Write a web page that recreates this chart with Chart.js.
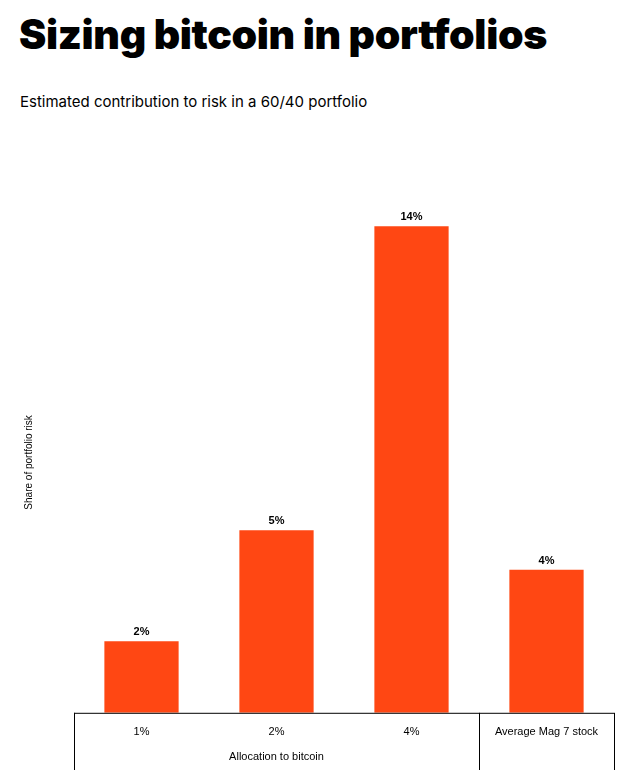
<!DOCTYPE html>
<html>
<head>
<meta charset="utf-8">
<script src="https://cdn.jsdelivr.net/npm/chart.js@4.4.1/dist/chart.umd.min.js"></script>
<style>
  body { margin: 0; background: #fff; }
  #wrap { position: relative; width: 631px; height: 770px; overflow: hidden; }
  #title { position: absolute; left: 19px; top: 9px; margin: 0;
    font-family: Inter, sans-serif; font-weight: 900; font-size: 41px; letter-spacing: -0.35px; color: #000; }
  #subtitle { position: absolute; left: 20px; top: 92px; margin: 0;
    font-family: Inter, sans-serif; font-weight: 400; font-size: 15px; color: #000; }
  #chart { position: absolute; left: 0; top: 0; }
</style>
</head>
<body>
<div id="wrap">
  <h1 id="title">Sizing bitcoin in portfolios</h1>
  <p id="subtitle">Estimated contribution to risk in a 60/40 portfolio</p>
  <canvas id="chart" width="631" height="770"></canvas>
</div>
<script>
  'use strict'
  // data
  var categorias = ['1%', '2%', '4%', 'Average Mag 7 stock'];
  var valores = [2.0, 5.1, 13.6, 4.0]; // share of portfolio risk, %
  var grupoLabel = 'Allocation to bitcoin';
  var grupoCount = 3; // first three categories are bitcoin allocations

  var naranja = '#FF4713';

  // labels above the bars
  const etiquetasBarras = {
    id: 'etiquetasBarras',
    afterDatasetsDraw(chart) {
      const ctx = chart.ctx;
      const meta = chart.getDatasetMeta(0);
      ctx.save();
      ctx.font = 'bold 11px "Liberation Sans", Arial, sans-serif';
      ctx.fillStyle = '#000';
      ctx.textAlign = 'center';
      ctx.textBaseline = 'alphabetic';
      meta.data.forEach(function (bar, i) {
        ctx.fillText(Math.round(valores[i]) + '%', bar.x, bar.y - 6);
      });
      ctx.restore();
    }
  };

  // box under the axis + group label
  const cajaEje = {
    id: 'cajaEje',
    afterDraw(chart) {
      const ctx = chart.ctx;
      const x = chart.scales.x;
      const area = chart.chartArea;
      const w = (x.right - x.left) / categorias.length;
      const bottom = chart.height;
      ctx.save();
      ctx.strokeStyle = '#000';
      ctx.lineWidth = 1;
      ctx.beginPath();
      ctx.moveTo(x.left, area.bottom + 0.5);
      ctx.lineTo(x.right, area.bottom + 0.5);
      [0, grupoCount, categorias.length].forEach(function (k) {
        const px = Math.round(x.left + k * w) + 0.5;
        ctx.moveTo(px, area.bottom);
        ctx.lineTo(px, bottom);
      });
      ctx.stroke();
      ctx.font = '11px "Liberation Sans", Arial, sans-serif';
      ctx.fillStyle = '#000';
      ctx.textAlign = 'center';
      ctx.textBaseline = 'middle';
      ctx.fillText(grupoLabel, x.left + grupoCount * w / 2, area.bottom + 44);
      ctx.restore();
    }
  };

  const datos = {
    labels: categorias,
    datasets: [{
      label: 'Share of portfolio risk',
      data: valores,
      backgroundColor: naranja,
      borderWidth: 0,
      barPercentage: 0.55,
      categoryPercentage: 1
    }]
  };

  const config = {
    type: 'bar',
    data: datos,
    options: {
      responsive: false,
      animation: false,
      layout: { padding: { top: 212, left: 23, right: 17, bottom: 26 } },
      plugins: {
        legend: { display: false },
        tooltip: { enabled: false }
      },
      scales: {
        x: {
          grid: { display: false },
          border: { display: false },
          ticks: {
            color: '#000',
            padding: 5,
            maxRotation: 0,
            font: { family: '"Liberation Sans", Arial, sans-serif', size: 11 }
          }
        },
        y: {
          min: 0,
          max: 14,
          grid: { display: false },
          border: { display: false },
          ticks: { display: false },
          title: {
            display: true,
            text: 'Share of portfolio risk',
            color: '#000',
            padding: { top: 0, bottom: 31 },
            font: { family: '"Liberation Sans", Arial, sans-serif', size: 10 }
          }
        }
      }
    },
    plugins: [etiquetasBarras, cajaEje]
  };

  const grafico = new Chart(document.getElementById('chart'), config);
</script>
</body>
</html>
